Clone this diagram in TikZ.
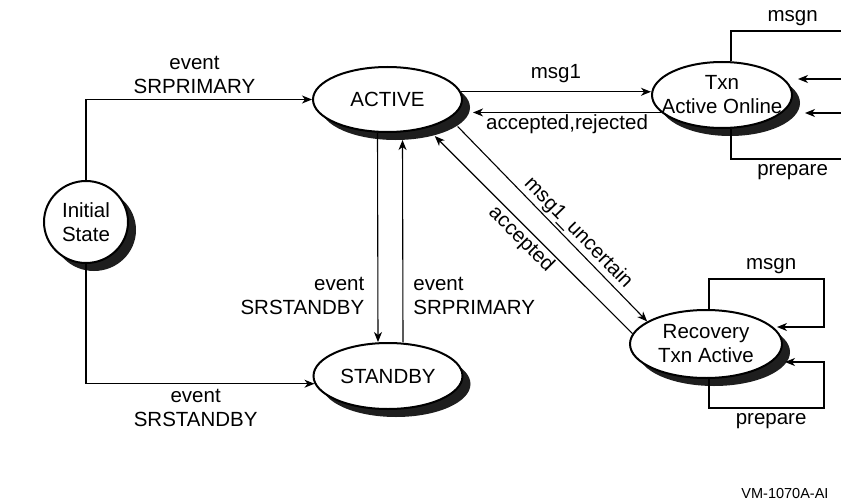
\documentclass[tikz,border=0pt]{standalone}
\usepackage{fontspec}
\setmainfont{Liberation Sans}
\usetikzlibrary{arrows.meta,shapes.geometric,shadows}
\definecolor{shade}{RGB}{30,30,30}

\begin{document}
\begin{tikzpicture}[x=1pt,y=-1pt,
  font={\fontsize{20.5}{24}\selectfont},
  >={Stealth[length=10pt,width=8pt,inset=3pt]},
  state/.style={ellipse,draw,line width=2pt,fill=white,inner sep=0pt,
    drop shadow={shadow xshift=8pt,shadow yshift=-8pt,fill=shade,opacity=1}},
  edge/.style={line width=1.1pt},
  tag/.style={inner sep=2pt,align=center}]
  % server states, the transitions between them, and the message loops on the two txn states
  \def\sh{8pt}
  \useasboundingbox (0,0) rectangle (841,503);

  \node[state,minimum width=84pt,minimum height=82pt,label={[tag]center:Initial\\State}] (init) at (86,222) {};
  \node[state,minimum width=149pt,minimum height=65pt,label={[tag]center:ACTIVE}] (act) at (387.5,99.5) {};
  \node[state,minimum width=149pt,minimum height=66pt,label={[tag]center:STANDBY}] (stb) at (388,376) {};
  \node[state,minimum width=140pt,minimum height=66pt,label={[tag]center:Txn\\Active Online}] (txn) at (722,95) {};
  \node[state,minimum width=152pt,minimum height=68pt,label={[tag]center:Recovery\\Txn Active}] (rec) at (706,344) {};

  \coordinate (txnTop) at (841,31);
  \coordinate (txnBot) at (841,159);
  \coordinate (txnOut1) at (841,79);
  \coordinate (txnIn1) at (798,79);
  \coordinate (txnOut2) at (841,113);
  \coordinate (txnIn2) at (805,113);
  \coordinate (recTop) at (824,279);
  \coordinate (recIn1) at (777,327);
  \coordinate (recBot) at (824,408);
  \coordinate (recIn2) at (785,362);

  \draw[edge,->] (init.north) |- (act.west) node[tag,above=3pt,pos=0.74] {event\\SRPRIMARY};
  \draw[edge,->] (init.south) |- (stb.186) node[tag,below=3pt,pos=0.74] {event\\SRSTANDBY};

  \draw[edge,->] ([xshift=-10pt]act.south) -- ([xshift=-10pt]stb.north)
    node[tag,align=right,left=11pt,pos=0.78] {event\\SRSTANDBY};
  \draw[edge,->] ([xshift=15pt]stb.north) -- ([shift={(15pt,-7pt)}]act.south)
    node[tag,align=left,right=8pt,pos=0.23] {event\\SRPRIMARY};

  \draw[edge,->] (act.6) -- (txn.west |- act.6) node[tag,above=6pt,midway] {msg1};
  \draw[edge,->] (txn.196) -- ([xshift=10pt]act.east |- txn.196) node[tag,below,midway] {accepted,rejected};

  \draw[edge,->] ([shift={(\sh,-\sh)}]act.-17) -- (rec.159) node[tag,sloped,above,pos=0.59] {msg1\_uncertain};
  \draw[edge,<-] ([shift={(\sh,-\sh)}]act.-36) -- (rec.172) node[tag,sloped,below,pos=0.48] {accepted};

  \draw[edge] ([xshift=9pt]txn.north) |- (txnTop) node[tag,above=3pt,pos=0.78] {msgn};
  \draw[edge,->] (txnOut1) -- (txnIn1);
  \draw[edge,->] (txnOut2) -- (txnIn2);
  \draw[edge] ([xshift=9pt]txn.south) |- (txnBot) node[tag,below=3pt,pos=0.78] {prepare};

  \draw[edge,->] ([xshift=3pt]rec.north) |- (recTop) node[tag,above=3pt,pos=0.77] {msgn} |- (recIn1);
  \draw[edge,->] ([xshift=3pt]rec.south) |- (recBot) node[tag,below=3pt,pos=0.77] {prepare} |- (recIn2);

  \node[font={\fontsize{14.5}{17}\selectfont},anchor=base east] (tagline) at (832,498) {VM-1070A-AI};
\end{tikzpicture}
\end{document}
